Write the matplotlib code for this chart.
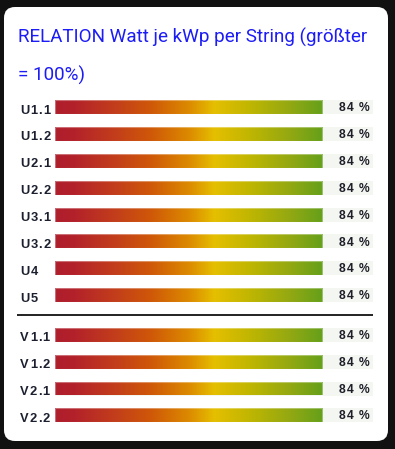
import matplotlib
matplotlib.use("Agg")
import matplotlib.pyplot as plt
import numpy as np
from matplotlib.colors import LinearSegmentedColormap
from matplotlib.patches import FancyBboxPatch
from matplotlib import font_manager
from matplotlib.font_manager import FontProperties
from matplotlib import ft2font

# ---- data ----
title_line1 = "RELATION Watt je kWp per String (größter"
title_line2 = "= 100%)"
group_u = ["U1.1", "U1.2", "U2.1", "U2.2", "U3.1", "U3.2", "U4", "U5"]
values_u = [84, 84, 84, 84, 84, 84, 84, 84]
group_v = ["V1.1", "V1.2", "V2.1", "V2.2"]
values_v = [84, 84, 84, 84]
max_value = 100

W, H = 395, 449
DPI = 100
fig = plt.figure(figsize=(W / DPI, H / DPI), dpi=DPI)
fig.patch.set_facecolor("#111111")
renderer = fig.canvas.get_renderer()

bg = fig.add_axes([0, 0, 1, 1])
bg.set_xlim(0, W)
bg.set_ylim(H, 0)
bg.axis("off")
card = FancyBboxPatch((4, 7), 384, 434, boxstyle="round,pad=0,rounding_size=11",
                      facecolor="white", edgecolor="none")
bg.add_patch(card)

# ---- title, sized to the reference line width ----
title_font = "Roboto"
tcol = "#1c1cf7"
t1 = bg.text(18, 42.5, title_line1, fontsize=12.6, family=title_font, color=tcol,
             va="baseline", ha="left")
w = t1.get_window_extent(renderer).width
t1.set_fontsize(12.6 * 352.0 / w)
bg.text(18, 80.5, title_line2, fontsize=t1.get_fontsize(), family=title_font, color=tcol,
        va="baseline", ha="left")

# ---- letter-spaced bold text helper ----
lab_family = "Liberation Sans"
lab_path = font_manager.findfont(FontProperties(family=lab_family, weight="bold"))
try:
    NOHINT = ft2font.LoadFlags.NO_HINTING
except AttributeError:
    NOHINT = ft2font.LOAD_NO_HINTING


def advances(s, size_pt):
    f = ft2font.FT2Font(lab_path)
    f.set_size(size_pt, DPI)
    return [f.load_char(ord(c), flags=NOHINT).linearHoriAdvance / 65536.0 for c in s]


def spaced_text(axx, x, y, s, size_pt, spacing, align="left", color="#1b1f2e"):
    adv = advances(s, size_pt)
    total = sum(adv) + spacing * (len(s) - 1)
    cx = x if align == "left" else x - total
    for c, a in zip(s, adv):
        if c != " ":
            axx.text(cx, y, c, fontsize=size_pt, family=lab_family, fontweight="bold",
                     color=color, va="baseline", ha="left", zorder=5)
        cx += a + spacing


# row positions (layout)
step = 26.85
y_u = [107.2 + step * i for i in range(len(group_u))]
y_v = [334.8 + step * i for i in range(len(group_v))]
labels = group_u + group_v
values = values_u + values_v
ys = y_u + y_v

bg.plot([17, 373], [314.5, 314.5], color="#111111", lw=1.3, solid_capstyle="butt")

for lab, y in zip(labels, ys):
    spaced_text(bg, 20.3, y + 6.4, lab, 9.3, 0.9, color="#1b1f2e")

# ---- bars: x in value units, y in pixels ----
x0, x1 = 55, 373
ax = fig.add_axes([x0 / W, 0, (x1 - x0) / W, 1])
ax.axis("off")
ax.patch.set_alpha(0)

cmap = LinearSegmentedColormap.from_list("grad", [
    (0.0, "#ae1e2c"), (0.06, "#b3222a"), (0.18, "#c23c1c"), (0.3, "#cf5808"),
    (0.42, "#dc8a00"), (0.5, "#e5bf00"), (0.62, "#bdb502"), (0.74, "#92a812"),
    (0.84, "#65a01a"), (1.0, "#4a961e")])
grad = np.linspace(0, 1, 400).reshape(1, -1)

bar_h = 14
ax.barh(ys, [max_value] * len(ys), height=bar_h, color="#f4f6f2", edgecolor="none", zorder=1)
bars = ax.barh(ys, values, height=bar_h, color="none", edgecolor="none", zorder=1)
for b, y, v in zip(bars, ys, values):
    im = ax.imshow(grad, cmap=cmap, aspect="auto",
                   extent=[0, max_value, y + bar_h / 2, y - bar_h / 2],
                   interpolation="bilinear", zorder=2)
    im.set_clip_path(b)
    ax.barh([y], [v], height=bar_h, color="none", edgecolor=(1, 1, 1, 0.35), lw=0.8, zorder=3)
ax.set_xlim(0, max_value)
ax.set_ylim(H, 0)

# overlay axes (pixel coords) for value labels
ov = fig.add_axes([0, 0, 1, 1])
ov.set_xlim(0, W)
ov.set_ylim(H, 0)
ov.axis("off")
ov.patch.set_alpha(0)
for y, v in zip(ys, values):
    spaced_text(ov, 369.5, y + 4.1, f"{v} %", 8.7, 1.0, align="right", color="#1e1e28")

fig.savefig("out.png", dpi=DPI, facecolor=fig.get_facecolor())
